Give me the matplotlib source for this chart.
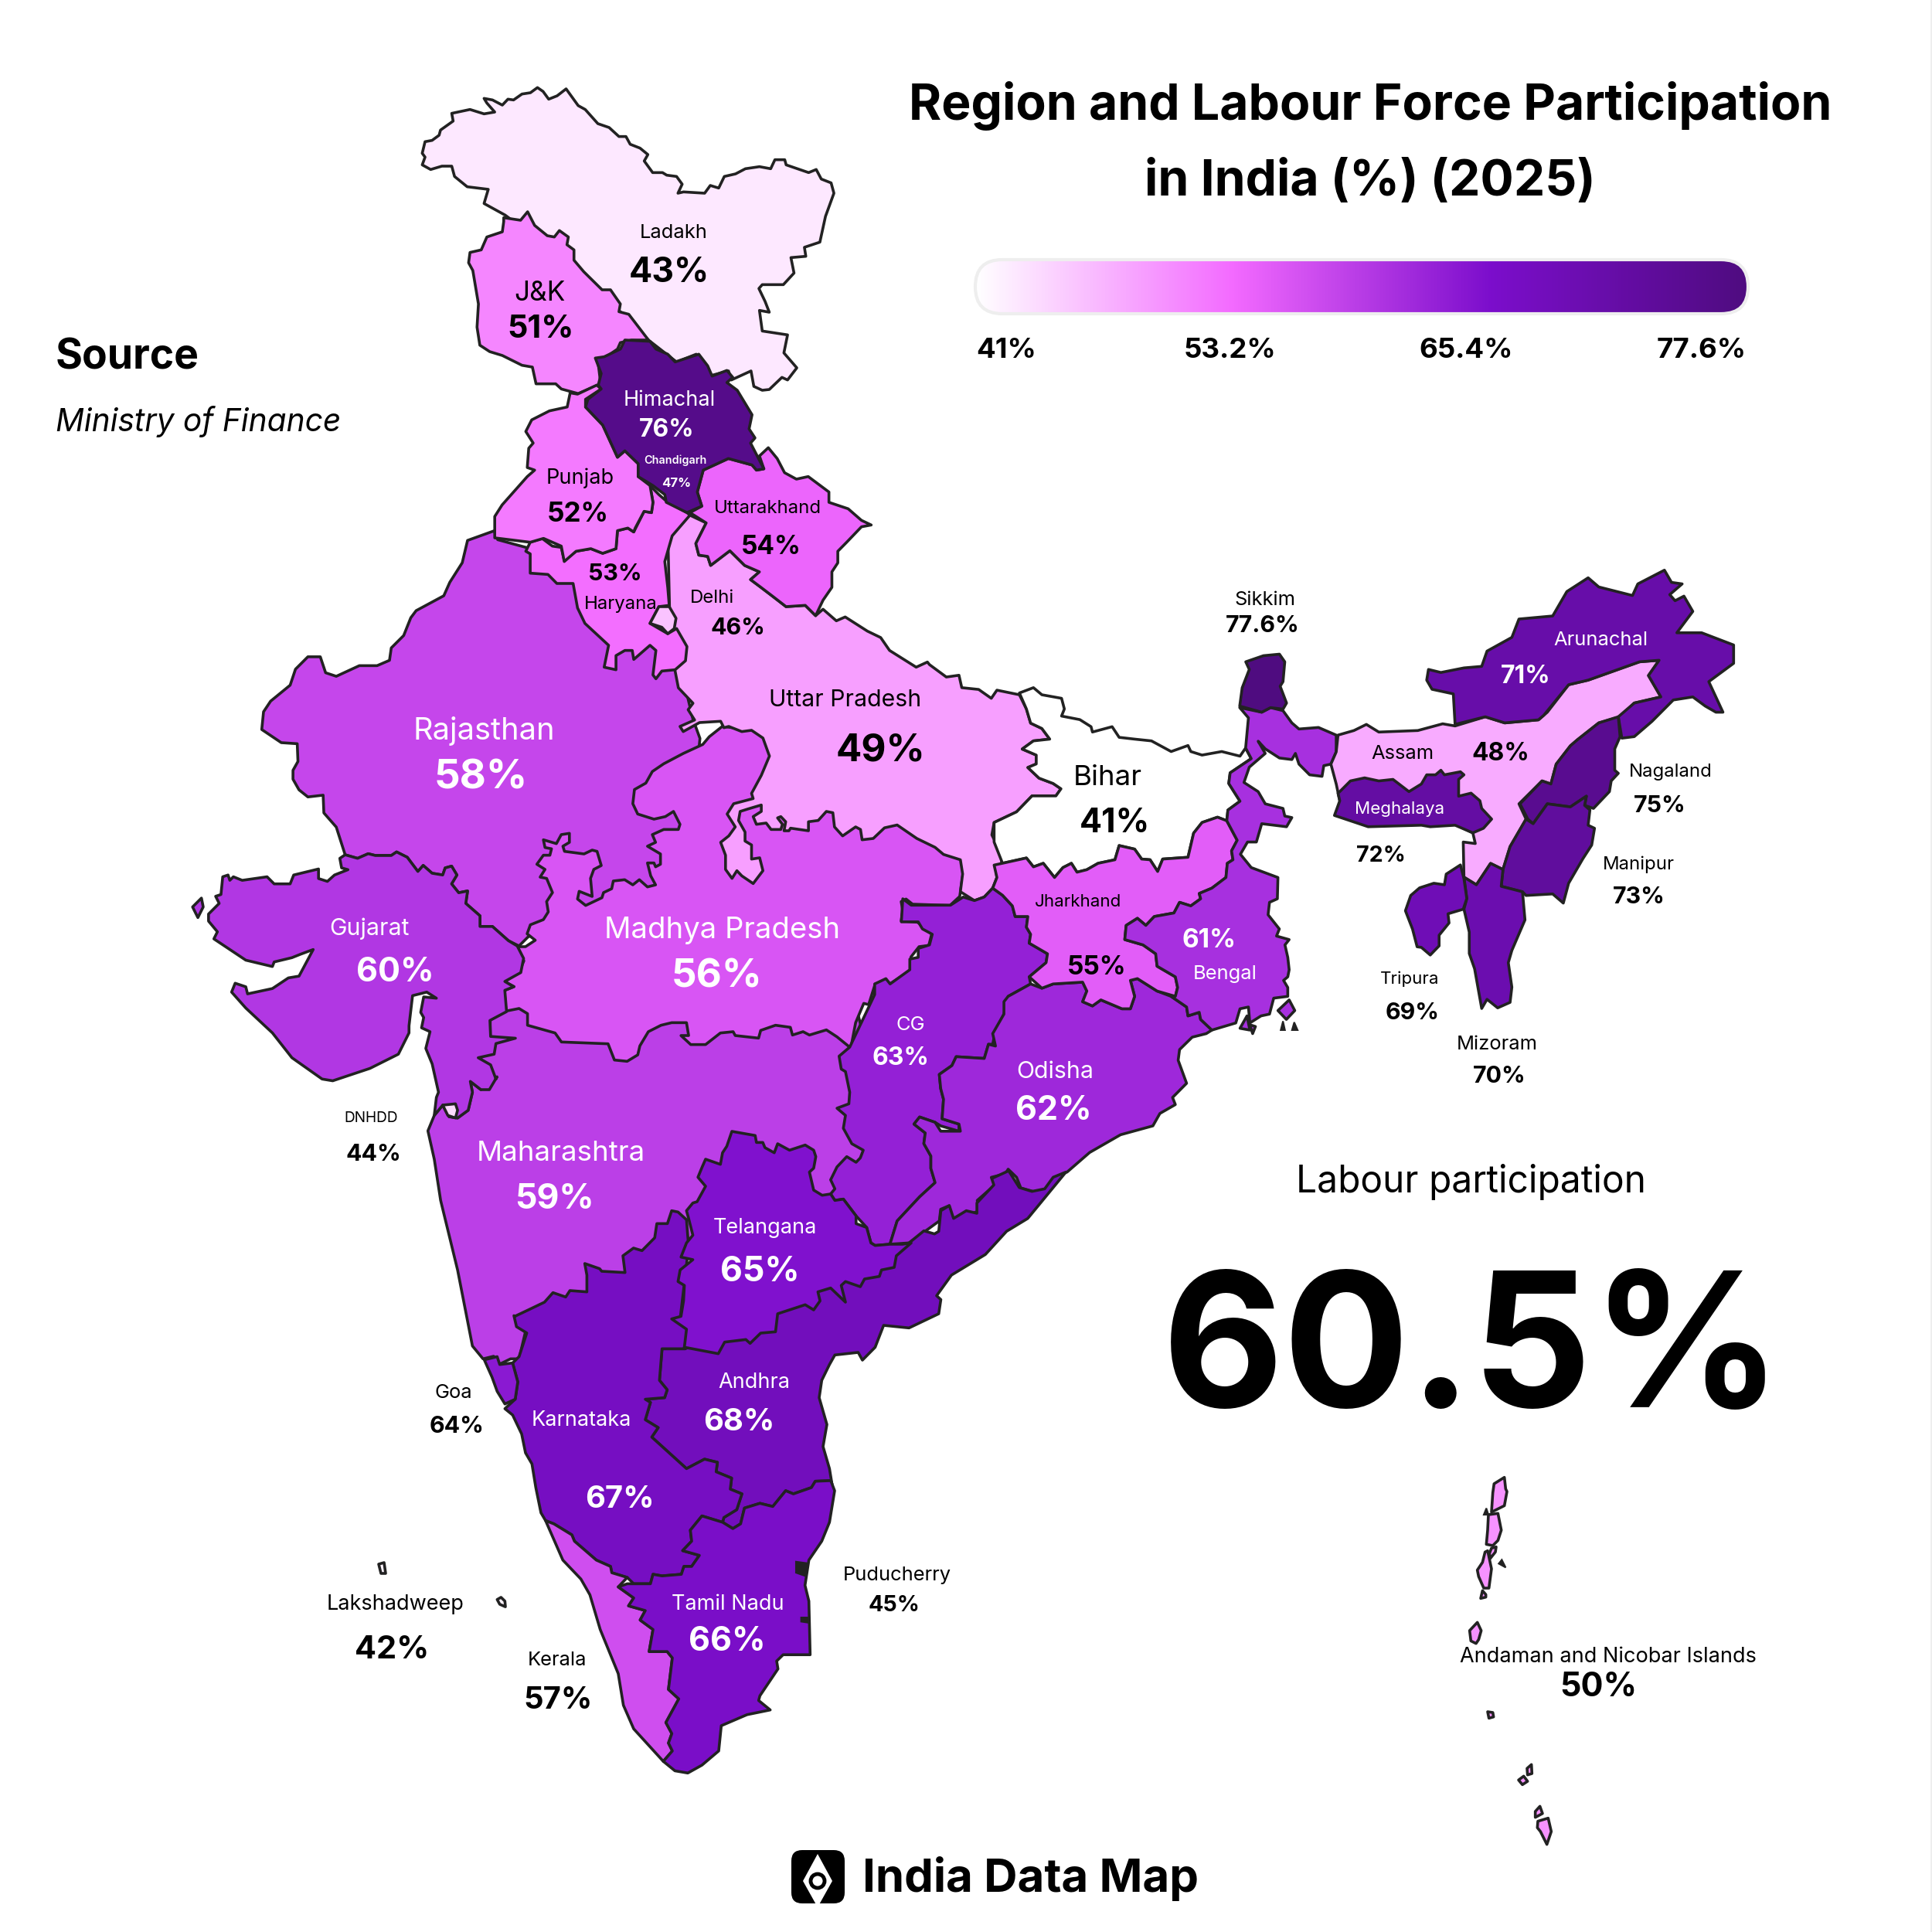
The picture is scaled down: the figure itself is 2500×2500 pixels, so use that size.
import numpy as np
import matplotlib
matplotlib.use('Agg')
import matplotlib.pyplot as plt
from matplotlib.colors import LinearSegmentedColormap, Normalize
from matplotlib.patches import Polygon, FancyBboxPatch, Circle

plt.rcParams['font.family'] = ['Inter', 'DejaVu Sans']

# values
states = ['Bihar', 'Lakshadweep', 'Ladakh', 'DNHDD', 'Puducherry', 'Delhi', 'Chandigarh', 'Assam', 'Uttar Pradesh',
          'Andaman', 'J&K', 'Punjab', 'Haryana', 'Uttarakhand', 'Jharkhand', 'Madhya Pradesh', 'Kerala', 'Rajasthan',
          'Maharashtra', 'Gujarat', 'Bengal', 'Odisha', 'CG', 'Goa', 'Telangana', 'Tamil Nadu', 'Karnataka', 'Andhra',
          'Tripura', 'Mizoram', 'Arunachal', 'Meghalaya', 'Manipur', 'Nagaland', 'Himachal', 'Sikkim']
values = [41, 42, 43, 44, 45, 46, 47, 48, 49, 50, 51, 52, 53, 54, 55, 56, 57, 58, 59, 60, 61, 62, 63, 64, 65, 66,
          67, 68, 69, 70, 71, 72, 73, 75, 76, 77.6]
legend_ticks = [41, 53.2, 65.4, 77.6]
legend_colors = ['#ffffff', '#f36aff', '#7c0ecc', '#4f0c80']
overall = '60.5%'

# outline traces: crop origin and the scale of the trace
N = (530, 100, 2.75, 3.0)
H = (600, 420, 2.613, 3.0)
W = (240, 680, 2.178, 2.178)
C = (640, 850, 2.376, 3.0)
E = (1130, 860, 2.75, 2.178)
S1 = (540, 1280, 1.823, 3.0)
S2 = (600, 1680, 3.0, 2.45)
NE = (1550, 720, 2.178, 2.53)
A = (1850, 1880, 3.0, 3.0)


def z(crop, pts):
    x0, y0, sx, sy = crop
    return [(x0 + a / sx, y0 + b / sy) for a, b in pts]


ladakh = z(N, [(45, 340), (75, 358), (115, 345), (150, 345), (160, 385), (205, 425), (280, 435), (265, 490), (340, 535),
               (420, 600), (600, 800), (750, 910), (850, 1020), (950, 1105), (1020, 1075), (1065, 1160), (1135, 1140),
               (1145, 1175), (1215, 1140), (1225, 1200), (1255, 1215), (1280, 1212), (1325, 1165), (1345, 1175),
               (1378, 1128), (1332, 1070), (1345, 1000), (1255, 985), (1245, 905), (1280, 912), (1265, 870),
               (1243, 820), (1255, 805), (1330, 805), (1368, 760), (1357, 700), (1410, 695), (1405, 660), (1460, 640),
               (1480, 540), (1510, 450), (1500, 410), (1465, 395), (1447, 358), (1420, 370), (1340, 340), (1335, 320),
               (1300, 320), (1285, 355), (1245, 347), (1195, 355), (1160, 375), (1120, 385), (1100, 430), (1070, 420),
               (1050, 450), (1020, 448), (975, 445), (955, 450), (970, 415), (950, 385), (915, 380), (900, 370),
               (865, 370), (835, 325), (848, 300), (820, 275), (785, 260), (770, 230), (745, 230), (710, 195),
               (670, 180), (625, 125), (600, 110), (557, 45), (525, 72), (495, 85), (475, 55), (455, 40), (430, 60),
               (400, 65), (370, 88), (350, 85), (330, 108), (295, 88), (265, 82), (275, 100), (303, 135), (265, 142),
               (215, 125), (150, 140), (155, 170), (110, 205), (105, 225), (80, 245), (55, 250), (45, 295), (55, 310)])
jk = z(N, [(335, 545), (395, 555), (420, 522), (445, 575), (490, 615), (515, 620), (533, 595), (565, 620), (560, 650),
           (585, 670), (585, 710), (620, 755), (685, 825), (715, 825), (750, 880), (745, 910), (780, 920), (850, 1020),
           (790, 1020), (750, 1030), (740, 1055), (700, 1085), (670, 1100), (680, 1190), (600, 1228), (540, 1210),
           (520, 1190), (450, 1190), (437, 1125), (400, 1118), (330, 1080), (285, 1065), (250, 1040), (240, 970),
           (245, 880), (235, 815), (225, 750), (210, 720), (215, 680), (255, 670), (275, 620), (330, 600), (335, 560)])
himachal = z(H, [(445, 130), (475, 125), (530, 95), (545, 60), (630, 65), (650, 95), (690, 115), (715, 145), (795, 115),
                 (825, 160), (840, 200), (890, 178), (910, 205), (890, 225), (925, 255), (975, 350), (965, 405),
                 (985, 440), (970, 460), (1015, 560), (990, 565), (975, 545), (895, 520), (810, 565), (790, 650),
                 (805, 705), (755, 730), (685, 690), (680, 660), (640, 625), (590, 590), (590, 540), (545, 490),
                 (520, 515), (470, 390), (412, 320), (420, 290), (465, 250), (455, 235), (465, 190)])
punjab = z(H, [(360, 265), (385, 270), (450, 235), (465, 250), (412, 290), (412, 320), (470, 390), (520, 515), (545, 490),
               (590, 540), (590, 590), (630, 625), (640, 690), (635, 730), (610, 725), (580, 790), (575, 805), (555, 790),
               (520, 800), (515, 870), (470, 888), (430, 870), (380, 880), (340, 920), (330, 860), (270, 830), (225, 845),
               (105, 828), (105, 745), (130, 700), (215, 590), (240, 565), (215, 555), (220, 480), (235, 460), (210, 415),
               (230, 370), (290, 335), (350, 320)])
haryana = z(H, [(225, 845), (265, 830), (300, 860), (330, 865), (340, 915), (380, 880), (430, 870), (470, 888), (515, 870),
                (520, 800), (555, 790), (575, 805), (610, 725), (635, 730), (640, 690), (630, 625), (660, 660), (690, 690),
                (755, 730), (765, 740), (705, 820), (680, 920), (690, 1020), (695, 1090), (660, 1095), (630, 1160),
                (690, 1200), (720, 1180), (755, 1250), (750, 1305), (715, 1340), (670, 1345), (650, 1375), (640, 1360),
                (650, 1265), (630, 1245), (575, 1300), (570, 1265), (545, 1265), (515, 1285), (515, 1340), (475, 1330),
                (490, 1245), (410, 1160), (385, 1100), (370, 1005), (315, 1005), (285, 970), (225, 965), (225, 890),
                (210, 880)])
delhi = z(H, [(660, 1095), (695, 1095), (718, 1140), (712, 1180), (690, 1200), (670, 1175), (630, 1160)])
uttarakhand = z(H, [(765, 730), (805, 705), (790, 650), (810, 565), (895, 520), (975, 545), (990, 565), (1015, 560),
                    (1000, 510), (1030, 478), (1060, 520), (1085, 575), (1125, 600), (1165, 590), (1235, 650), (1235, 690),
                    (1300, 715), (1345, 760), (1378, 778), (1345, 785), (1295, 845), (1265, 880), (1265, 925), (1245, 960),
                    (1245, 1020), (1215, 1070), (1190, 1130), (1155, 1090), (1090, 1095), (1045, 1055), (1005, 1020),
                    (970, 990), (1000, 960), (950, 935), (900, 878), (835, 935), (825, 900), (795, 895), (785, 850), (820, 770)])
up = (z(H, [(765, 740), (820, 770), (785, 850), (795, 895), (825, 900), (835, 935), (900, 878), (950, 935), (1000, 960),
            (970, 990), (1005, 1020), (1045, 1055), (1090, 1095), (1155, 1090), (1190, 1130), (1215, 1105), (1260, 1150),
            (1290, 1135), (1365, 1190), (1410, 1215), (1440, 1265), (1530, 1330), (1568, 1310)])
      + z(E, [(200, 0), (260, 35), (305, 30), (315, 65), (375, 70), (420, 95), (440, 72), (520, 85), (545, 125), (560, 165),
              (600, 180), (628, 210), (570, 215), (530, 238), (580, 255), (580, 280), (550, 290), (590, 320), (640, 335),
              (668, 350), (650, 370), (610, 370), (565, 370), (510, 415), (430, 445), (422, 480), (460, 540), (455, 565),
              (435, 570), (440, 600), (425, 630), (395, 655), (360, 665), (310, 640), (318, 590), (310, 550), (250, 535),
              (220, 515), (155, 490), (85, 452), (40, 460), (0, 490)])
      + z(C, [(1130, 710), (1125, 670), (1110, 660), (1070, 695), (1045, 660), (1040, 605),
              (1020, 600), (995, 635), (965, 640), (965, 675), (910, 665), (905, 675), (890, 675), (895, 640), (880, 620),
              (870, 625), (885, 650), (880, 670), (850, 670), (835, 645), (805, 650), (795, 620), (820, 600), (820, 575),
              (780, 590), (755, 600), (750, 635), (770, 680), (770, 715), (790, 730), (790, 785), (815, 780), (825, 830),
              (795, 880), (760, 850), (745, 830), (730, 860), (710, 825), (710, 770), (695, 720), (720, 695), (740, 660),
              (715, 610), (735, 570), (795, 550), (790, 530), (820, 460), (845, 385), (825, 315), (790, 285), (760, 290),
              (720, 270), (705, 275), (695, 250), (630, 255), (580, 290), (570, 270), (615, 245), (595, 205), (610, 180),
              (565, 120), (555, 55)])
      + z(H, [(700, 1300), (690, 800)]))
mp = (z(C, [(900, 300), (700, 270), (660, 310), (640, 340), (580, 375), (550, 395), (520, 415), (485, 445), (465, 490),
            (430, 515), (425, 570), (440, 610), (490, 630), (525, 620), (550, 600), (570, 650), (565, 670), (520, 670),
            (485, 690), (495, 720), (470, 735), (510, 765), (510, 805), (495, 815), (490, 800), (470, 800), (480, 850),
            (495, 885), (470, 893), (445, 865), (425, 885), (400, 865), (365, 870), (360, 900), (335, 915), (330, 935),
            (280, 965), (255, 940), (260, 910), (300, 930), (295, 860), (305, 825), (328, 810), (315, 755), (300, 750),
            (275, 765), (215, 755), (210, 735), (230, 720), (230, 685), (205, 690), (190, 725), (150, 710), (155, 740),
            (175, 745), (170, 770), (150, 770), (130, 805), (155, 825), (140, 855), (160, 860), (178, 915), (160, 950),
            (165, 990), (150, 1020), (110, 1040), (100, 1075), (125, 1100), (95, 1125), (70, 1125), (85, 1165), (90, 1180),
            (75, 1225), (30, 1260), (60, 1280), (30, 1295), (35, 1375)])
      + z(S1, [(240, 75), (260, 95), (260, 140), (325, 170), (340, 205), (450, 212), (465, 275), (495, 280), (520, 255),
               (525, 220), (545, 165), (575, 140), (600, 130), (635, 130), (640, 180), (622, 180), (645, 215), (680, 215),
               (715, 170), (745, 165), (750, 180), (805, 190), (810, 160), (845, 140), (880, 148), (885, 178), (910, 165),
               (925, 178), (965, 158), (990, 185), (1020, 225)])
      + z(C, [(1095, 1520), (1110, 1420), (1135, 1345), (1150, 1350), (1170, 1270), (1215, 1270), (1245, 1245), (1280, 1215),
              (1280, 1165), (1305, 1125), (1335, 1120), (1345, 1070), (1300, 1030), (1250, 1025), (1255, 985), (1250, 950),
              (1265, 940), (1285, 960), (1400, 965), (1430, 930), (1445, 800), (1500, 500)]))
rajasthan = z(W, [(795, 42), (870, 15), (880, 40), (1100, 100), (1300, 200), (1400, 420), (1430, 545), (1450, 600), (1420, 900),
                  (1300, 1060), (1100, 1120), (1020, 1130), (965, 1160), (940, 1185), (910, 1170), (865, 1130), (830, 1130),
                  (830, 1100), (790, 1065), (795, 1030), (770, 1035), (750, 1010), (765, 985), (750, 960), (732, 965),
                  (725, 985), (695, 980), (670, 958), (655, 975), (625, 935), (595, 920), (580, 930), (535, 930), (515, 925),
                  (485, 938), (450, 928), (425, 850), (390, 810), (388, 760), (345, 765), (320, 745), (303, 715), (303, 690),
                  (317, 665), (315, 615), (270, 612), (215, 575), (220, 525), (240, 495), (295, 450), (310, 405), (345, 370),
                  (380, 370), (395, 415), (425, 425), (490, 395), (540, 395), (575, 380), (580, 345), (615, 310), (635, 260),
                  (650, 240), (728, 198), (745, 160), (780, 105)])
gujarat = (z(W, [(450, 928), (485, 938), (515, 925), (535, 930), (580, 930), (595, 920), (625, 935), (655, 975), (670, 958),
                 (695, 980), (725, 985), (732, 965), (750, 960), (765, 985), (750, 1010), (770, 1035), (795, 1030), (790, 1065),
                 (830, 1100), (830, 1130), (865, 1130), (910, 1170), (935, 1185), (953, 1220), (945, 1260), (900, 1285),
                 (925, 1300), (900, 1310), (905, 1370), (858, 1395), (860, 1440), (930, 1445), (875, 1460), (870, 1490),
                 (825, 1500), (860, 1520), (875, 1560)])
           + z(S1, [(188, 340), (170, 390), (150, 390), (125, 358),
                    (130, 400), (120, 470), (95, 500), (75, 495), (60, 450), (40, 490), (45, 420), (50, 400), (35, 290),
                    (20, 230), (30, 165), (10, 150), (15, 110), (8, 90), (15, 30), (45, 35)])
           + z(W, [(680, 1315), (640, 1325), (630, 1410), (630, 1430), (600, 1490), (520, 1530), (415, 1565), (385, 1560),
                   (300, 1500), (245, 1430), (170, 1360), (130, 1315), (140, 1290), (170, 1300), (175, 1320), (245, 1305),
                   (290, 1275), (320, 1270), (360, 1195), (325, 1208), (300, 1218), (250, 1230), (245, 1243), (170, 1225),
                   (80, 1165), (90, 1145), (65, 1115), (65, 1095), (95, 1065), (85, 1045), (100, 1040), (105, 990), (120, 985),
                   (125, 1000), (135, 990), (160, 1000), (230, 990), (250, 1010), (295, 1010), (305, 985), (375, 968),
                   (375, 995), (400, 1003), (420, 985), (458, 970), (440, 965), (435, 938)]))
kutch_islet = z(W, [(20, 1075), (45, 1050), (50, 1075), (35, 1105)])
maharashtra = z(S1, [(40, 490), (25, 550), (40, 660), (55, 820), (95, 1090), (130, 1385), (155, 1435), (180, 1425), (195, 1455),
                     (220, 1435), (240, 1435), (255, 1330), (400, 1300), (640, 1000), (1000, 900), (1100, 500), (1040, 100),
                     (400, 60), (172, 60), (172, 188), (150, 268), (150, 390), (125, 358), (130, 400), (120, 470), (95, 500),
                     (75, 495), (60, 450)])
dnhdd = z(S1, [(60, 450), (90, 445), (95, 470), (90, 500), (72, 490)])
goa = z(S2, [(80, 195), (130, 185), (140, 210), (190, 205), (210, 265), (200, 320), (160, 335), (130, 295), (110, 250)])
karnataka = (z(S1, [(230, 1270), (262, 1245), (300, 1215), (320, 1178), (350, 1195), (360, 1170), (400, 1175), (400, 1110),
                    (395, 1065), (430, 1085), (435, 1095), (490, 1100), (485, 1035), (510, 1005), (530, 1015), (560, 965),
                    (565, 910), (590, 910), (600, 860), (615, 865), (635, 895), (640, 1000), (620, 1280), (640, 1320), (630, 1390)])
             + z(S2, [(860, 160), (770, 160), (760, 260), (790, 290), (780, 315), (705, 320), (725, 330), (705, 385), (755, 410),
                      (730, 440), (865, 540), (935, 510), (985, 520), (980, 550), (1040, 570), (1035, 605), (1080, 620),
                      (1060, 670), (1010, 695), (1005, 710), (925, 690), (880, 735), (885, 770), (850, 800), (915, 815),
                      (885, 850), (855, 850), (845, 875), (770, 880), (735, 875), (725, 905), (660, 905), (635, 885), (575, 870),
                      (570, 850), (515, 830), (430, 770), (420, 750), (350, 715), (318, 705), (300, 680), (280, 600), (265, 525),
                      (240, 490), (225, 430), (190, 370), (160, 350), (200, 320), (210, 265), (190, 205), (215, 185), (245, 110),
                      (205, 90), (195, 55)]))
kerala = z(S2, [(318, 705), (350, 715), (420, 750), (430, 770), (515, 830), (570, 850), (575, 870), (635, 885), (600, 915),
                (660, 950), (640, 975), (705, 990), (685, 1020), (735, 1050), (720, 1120), (790, 1120), (810, 1140), (795, 1240),
                (835, 1270), (785, 1345), (808, 1380), (795, 1410), (810, 1435), (775, 1468), (660, 1365), (620, 1290), (600, 1190),
                (530, 1050), (490, 940), (455, 890), (385, 830)])
tamil_nadu = z(S2, [(600, 915), (635, 905), (660, 905), (725, 905), (735, 875), (770, 880), (845, 875), (855, 850), (885, 850),
                    (915, 815), (850, 800), (885, 770), (880, 735), (925, 690), (1005, 710), (1045, 730), (1075, 715), (1090, 665),
                    (1150, 650), (1200, 660), (1250, 610), (1280, 620), (1350, 600), (1365, 580), (1425, 578), (1440, 610),
                    (1420, 710), (1390, 770), (1340, 830), (1325, 910), (1340, 960), (1345, 1130), (1240, 1130), (1215, 1150),
                    (1220, 1175), (1150, 1260), (1145, 1275), (1190, 1305), (1100, 1320), (1000, 1355), (990, 1435), (925, 1480),
                    (870, 1505), (820, 1498), (775, 1468), (810, 1435), (795, 1410), (808, 1380), (785, 1345), (835, 1270),
                    (795, 1240), (810, 1140), (790, 1120), (720, 1120), (735, 1050), (685, 1020), (705, 990), (640, 975), (660, 950)])
puducherry = [z(S2, [(1290, 835), (1335, 840), (1325, 880), (1290, 870)]), z(S2, [(1310, 1012), (1335, 1012), (1335, 1028), (1310, 1025)])]
andhra = (z(S1, [(1160, 985), (1195, 938), (1220, 950), (1230, 940), (1235, 860), (1255, 840), (1265, 890), (1295, 860), (1320, 870),
                 (1320, 830), (1360, 760), (1355, 735), (1395, 705), (1420, 770), (1450, 785), (1480, 775), (1500, 730), (1530, 710),
                 (1440, 890), (1390, 940), (1340, 1030), (1260, 1110), (1225, 1190), (1235, 1205), (1230, 1260), (1160, 1315),
                 (1100, 1305), (1080, 1390), (1050, 1440), (1040, 1410), (985, 1420)])
          + z(S2, [(1420, 210), (1390, 260), (1380, 315), (1410, 400), (1395, 470), (1420, 540), (1430, 590), (1425, 578), (1365, 580),
                   (1350, 600), (1280, 620), (1250, 610), (1200, 660), (1150, 650), (1090, 665), (1075, 715), (1045, 730), (1005, 710),
                   (1010, 695), (1060, 670), (1080, 620), (1035, 605), (1040, 570), (980, 550), (985, 520), (935, 510), (865, 540),
                   (730, 440), (755, 410), (705, 385), (725, 330), (705, 320), (780, 315), (790, 290), (760, 260), (770, 160), (860, 160)])
          + z(S1, [(1000, 1100), (1150, 990)]))
telangana = z(S1, [(742, 552), (797, 568), (800, 595), (815, 595), (820, 615), (842, 635), (850, 600), (878, 625), (915, 605),
                   (935, 625), (940, 650), (935, 695), (925, 710), (935, 780), (955, 800), (975, 795), (985, 820), (1005, 815),
                   (1035, 880), (1035, 910), (1060, 925), (1070, 985), (1080, 995), (1115, 990), (1145, 990), (1165, 985),
                   (1130, 1035), (1125, 1080), (1095, 1090), (1090, 1115), (1055, 1125), (1045, 1155), (1010, 1135), (1000, 1150),
                   (1010, 1215), (975, 1160), (945, 1175), (950, 1210), (935, 1245), (915, 1225), (850, 1260), (845, 1330),
                   (810, 1335), (785, 1375), (775, 1360), (725, 1370), (710, 1415), (630, 1390), (635, 1320), (600, 1280),
                   (622, 1270), (628, 1210), (630, 1150), (615, 1135), (620, 1090), (650, 1050), (622, 1040), (635, 985),
                   (650, 955), (640, 890), (635, 860), (650, 830), (660, 825), (680, 765), (662, 730), (672, 690), (680, 660),
                   (715, 680), (720, 635), (730, 610)])
cg = (z(E, [(105, 660), (135, 678), (275, 678), (320, 655), (360, 665), (395, 655), (425, 630), (460, 650), (495, 680), (505, 710),
            (550, 710), (545, 740), (560, 760), (555, 785), (620, 815), (615, 840), (555, 880), (560, 900), (480, 935), (465, 985),
            (435, 1030), (425, 1070), (410, 1070), (395, 1110), (295, 1105), (280, 1130), (235, 1155), (240, 1195), (250, 1225),
            (245, 1280), (305, 1295), (305, 1315), (240, 1300), (220, 1290), (165, 1275), (145, 1295), (185, 1320), (180, 1350),
            (205, 1385), (205, 1420), (220, 1460), (165, 1500), (85, 1568)])
      + z(S1, [(1115, 990), (1080, 995), (1070, 985), (1060, 925), (1035, 880), (1005, 815), (985, 820), (975, 795), (985, 775),
               (975, 740), (990, 690), (1013, 650), (1035, 672), (1045, 655), (1052, 625), (1025, 600), (1005, 540), (1010, 490),
               (990, 462), (1018, 445), (1020, 400), (1010, 320), (1000, 310), (995, 260), (1020, 225)])
      + z(E, [(5, 930), (5, 900), (45, 885), (60, 900), (130, 860), (130, 830), (160, 825), (160, 800), (200, 790), (210, 760),
              (175, 745), (160, 725), (100, 725)]))
odisha = (z(E, [(560, 900), (600, 912), (640, 900), (745, 895), (760, 920), (745, 950), (780, 962), (810, 945), (885, 970), (915, 970),
                (930, 935), (915, 890), (940, 885), (1010, 920), (1060, 935), (1115, 965), (1120, 990), (1160, 980), (1165, 1000),
                (1205, 1030), (1185, 1040), (1135, 1050), (1090, 1085), (1085, 1115), (1115, 1180), (1065, 1220), (1075, 1240),
                (1020, 1265), (995, 1300), (880, 1325), (770, 1375), (690, 1430), (660, 1440), (620, 1480), (570, 1485), (525, 1475),
                (510, 1445), (480, 1422), (470, 1435), (420, 1445), (435, 1465), (370, 1510), (375, 1540), (280, 1568), (270, 1525),
                (240, 1535), (235, 1568)])
          + z(S1, [(1160, 985), (1115, 990)])
          + z(E, [(85, 1568), (165, 1500), (220, 1460), (205, 1420), (205, 1385), (180, 1350), (185, 1320), (145, 1295), (165, 1275),
                  (220, 1290), (240, 1315), (310, 1315), (305, 1295), (245, 1280), (250, 1225), (240, 1195), (235, 1155), (280, 1130),
                  (295, 1105), (395, 1110), (410, 1070), (435, 1075), (425, 1040), (465, 985), (465, 950), (480, 935)]))
jharkhand = z(E, [(430, 565), (545, 545), (570, 570), (605, 560), (645, 600), (675, 572), (705, 560), (725, 585), (760, 578), (800, 560),
                  (860, 550), (875, 510), (930, 520), (955, 548), (985, 550), (1012, 583), (1030, 548), (1120, 543), (1140, 475),
                  (1170, 445), (1225, 430), (1258, 440), (1295, 495), (1275, 525), (1280, 550), (1260, 560), (1255, 600), (1205, 630),
                  (1160, 645), (1165, 660), (1130, 680), (1090, 670), (1070, 700), (1000, 710), (970, 735), (940, 715), (900, 735),
                  (895, 775), (960, 790), (1005, 815), (1010, 850), (1075, 880), (1083, 910), (1075, 935), (1010, 920), (940, 885),
                  (915, 890), (930, 935), (915, 970), (885, 970), (810, 945), (780, 962), (745, 950), (760, 920), (745, 895), (640, 900),
                  (600, 912), (555, 880), (615, 840), (620, 815), (555, 785), (560, 760), (545, 740), (550, 710), (505, 710), (495, 680),
                  (460, 650), (425, 630), (440, 600)])
bengal = (z(NE, [(118, 495), (180, 510), (205, 495), (240, 505), (265, 545), (285, 565), (340, 560), (390, 585), (390, 640), (375, 680),
                 (355, 685), (350, 720), (315, 715), (285, 680), (275, 645), (265, 665), (230, 660), (190, 630), (170, 605), (190, 645),
                 (145, 690), (130, 740), (170, 770), (190, 810), (240, 825), (245, 850), (265, 855), (250, 885), (180, 875), (165, 935),
                 (140, 935), (120, 975)])
          + z(E, [(1345, 572), (1440, 600), (1438, 660), (1410, 670), (1405, 705), (1445, 745), (1435, 765), (1480, 775), (1465, 790),
                  (1475, 825), (1480, 860), (1475, 880), (1460, 890), (1475, 910), (1475, 935), (1425, 940), (1410, 985), (1380, 990),
                  (1340, 1010), (1335, 965), (1305, 970), (1290, 1010), (1205, 1030), (1165, 1000), (1160, 980), (1120, 990), (1115, 965),
                  (1060, 935), (1075, 935), (1083, 910), (1075, 880), (1010, 850), (1005, 815), (960, 790), (895, 775), (900, 735),
                  (940, 715), (970, 735), (1000, 710), (1070, 700), (1090, 670), (1130, 680), (1165, 660), (1160, 645), (1205, 630),
                  (1255, 600), (1260, 560), (1280, 550), (1275, 525), (1295, 495), (1258, 440), (1262, 410), (1305, 385), (1265, 335),
                  (1270, 305), (1345, 265), (1325, 235), (1335, 150)]))
sundarbans = [z(E, [(1305, 1025), (1330, 990), (1340, 1030)]), z(E, [(1340, 1015), (1360, 1020), (1350, 1040)]),
              z(E, [(1440, 975), (1480, 945), (1500, 975), (1470, 1000)])]
sundarban_dark = [z(E, [(1450, 1030), (1458, 1005), (1465, 1030)]), z(E, [(1490, 1030), (1498, 1008), (1510, 1030)])]
bihar = z(E, [(520, 80), (570, 65), (600, 85), (670, 95), (680, 125), (670, 145), (735, 155), (775, 175), (780, 190), (850, 175), (875, 205),
              (930, 210), (990, 215), (1060, 245), (1120, 228), (1130, 245), (1170, 255), (1240, 245), (1305, 258), (1325, 235), (1345, 265),
              (1270, 305), (1265, 335), (1305, 385), (1262, 410), (1258, 440), (1225, 430), (1170, 445), (1140, 475), (1120, 543), (1030, 548),
              (1012, 583), (985, 550), (955, 548), (930, 520), (875, 510), (860, 550), (800, 560), (760, 578), (725, 585), (705, 560), (675, 572),
              (645, 600), (605, 560), (570, 570), (545, 545), (460, 560), (430, 500), (430, 445), (510, 415), (565, 370), (650, 370), (668, 350),
              (640, 335), (590, 320), (550, 290), (580, 280), (580, 255), (530, 238), (570, 215), (628, 210), (600, 180), (560, 165), (545, 125)])
sikkim = z(NE, [(135, 345), (185, 325), (230, 320), (245, 345), (240, 410), (232, 425), (250, 480), (240, 500), (205, 495), (180, 510),
                (118, 490), (125, 430), (145, 370)])
assam = z(NE, [(395, 585), (440, 570), (475, 550), (510, 575), (620, 570), (690, 548), (725, 555), (810, 525), (865, 545), (960, 535), (985, 510),
               (1045, 420), (1100, 405), (1245, 345), (1300, 340), (1270, 390), (1305, 460), (1230, 480), (1190, 525), (1130, 545), (1070, 600),
               (1050, 620), (1010, 680), (995, 745), (970, 735), (905, 810), (925, 860), (880, 950), (860, 1025), (825, 1005), (785, 1075),
               (750, 1050), (748, 935), (782, 940), (775, 905), (730, 880), (400, 800), (390, 745), (375, 680), (390, 640)])
meghalaya = z(NE, [(400, 770), (430, 735), (470, 725), (510, 735), (550, 730), (595, 770), (630, 745), (645, 715), (670, 715), (685, 700), (695, 715),
                   (740, 705), (750, 715), (735, 730), (735, 785), (770, 775), (795, 800), (800, 825), (828, 860), (805, 890), (775, 905), (725, 880),
                   (655, 885), (630, 880), (480, 885), (385, 848), (400, 800), (395, 775)])
nagaland = z(NE, [(1185, 525), (1190, 590), (1175, 630), (1175, 700), (1185, 710), (1165, 735), (1160, 770), (1115, 825), (1090, 815), (1095, 785),
                  (1050, 820), (985, 810), (945, 875), (930, 860), (908, 810), (970, 735), (995, 745), (1010, 680), (1050, 620), (1070, 600), (1130, 545)])
arunachal = z(NE, [(650, 370), (685, 380), (750, 365), (800, 360), (815, 310), (885, 265), (905, 205), (1000, 195), (1040, 115), (1100, 70), (1130, 100),
                   (1225, 128), (1240, 90), (1315, 45), (1335, 85), (1365, 90), (1330, 125), (1345, 145), (1370, 130), (1395, 180), (1350, 250),
                   (1420, 250), (1510, 290), (1510, 350), (1440, 410), (1480, 510), (1460, 510), (1430, 490), (1395, 460), (1340, 470), (1280, 540),
                   (1230, 590), (1195, 595), (1185, 525), (1230, 480), (1305, 460), (1270, 390), (1300, 340), (1245, 345), (1100, 405), (1045, 420),
                   (975, 520), (960, 535), (865, 545), (810, 525), (725, 550), (720, 450), (660, 435), (645, 405)])
manipur = z(NE, [(985, 810), (1050, 820), (1095, 785), (1090, 815), (1105, 830), (1100, 880), (1118, 890), (1110, 945), (1085, 990), (1045, 1070),
                 (1030, 1135), (1000, 1105), (925, 1110), (915, 1098), (855, 1080), (860, 1025), (880, 950), (925, 860), (945, 875)])
mizoram = z(NE, [(750, 1050), (785, 1075), (825, 1005), (860, 1025), (855, 1080), (915, 1098), (922, 1190), (885, 1290), (875, 1330), (885, 1410),
                 (880, 1460), (845, 1478), (815, 1450), (800, 1480), (780, 1350), (765, 1300), (765, 1230), (750, 1155), (758, 1120)])
tripura = z(NE, [(740, 1010), (750, 1055), (758, 1120), (748, 1155), (705, 1170), (708, 1200), (680, 1240), (680, 1275), (655, 1305), (630, 1280),
                 (618, 1278), (605, 1220), (585, 1160), (600, 1110), (625, 1085), (665, 1070), (695, 1075), (700, 1040)])
andaman = [z(A, p) for p in [
    [(250, 120), (290, 95), (295, 140), (300, 150), (290, 205), (240, 230), (245, 155)],
    [(228, 240), (265, 235), (278, 300), (265, 340), (245, 360), (220, 355), (225, 300)],
    [(240, 370), (258, 365), (255, 385), (235, 410), (232, 390)],
    [(215, 385), (225, 380), (240, 450), (230, 525), (210, 525), (190, 480), (185, 455), (205, 425)],
    [(205, 535), (218, 550), (218, 560), (198, 565)],
    [(185, 658), (200, 690), (190, 725), (180, 740), (160, 730), (155, 690)],
    [(225, 1005), (245, 1008), (248, 1025), (230, 1030)],
    [(345, 1270), (365, 1255), (380, 1275), (360, 1288)],
    [(378, 1225), (395, 1210), (397, 1245), (380, 1250)],
    [(410, 1392), (428, 1372), (438, 1400), (410, 1415)],
    [(420, 1430), (460, 1418), (472, 1470), (455, 1520), (430, 1470), (418, 1455)]]]
andaman_dark = [z(A, [(210, 240), (220, 215), (228, 240)]), z(A, [(268, 430), (280, 415), (295, 445)])]
lakshadweep = [z(S2, [(130, 955), (145, 948), (160, 960), (162, 978), (140, 970)]),
               [(490, 2024), (497, 2022), (499, 2036), (493, 2036)]]

# later ones paint over the shared border of earlier ones
shapes = {'Ladakh': [ladakh], 'Rajasthan': [rajasthan], 'Maharashtra': [maharashtra], 'Madhya Pradesh': [mp], 'Gujarat': [gujarat, kutch_islet],
          'DNHDD': [dnhdd], 'J&K': [jk], 'Uttar Pradesh': [up], 'Haryana': [haryana], 'Delhi': [delhi], 'Punjab': [punjab],
          'Uttarakhand': [uttarakhand], 'Himachal': [himachal], 'CG': [cg], 'Odisha': [odisha], 'Andhra': [andhra], 'Karnataka': [karnataka],
          'Goa': [goa], 'Kerala': [kerala], 'Tamil Nadu': [tamil_nadu], 'Telangana': [telangana], 'Bihar': [bihar], 'Jharkhand': [jharkhand],
          'Bengal': [bengal] + sundarbans, 'Sikkim': [sikkim], 'Assam': [assam], 'Meghalaya': [meghalaya], 'Arunachal': [arunachal],
          'Nagaland': [nagaland], 'Manipur': [manipur], 'Mizoram': [mizoram], 'Tripura': [tripura], 'Andaman': andaman,
          'Lakshadweep': lakshadweep}

# label x, y (in a 1568 wide frame), text, size, weight, colour
labels = [
    (547, 187, 'Ladakh', 16, 'normal', 'k'), (543, 219, '43%', 28, 'bold', 'k'),
    (438, 236, 'J&K', 22, 'normal', 'k'), (439, 265, '51%', 26, 'bold', 'k'),
    (543, 323, 'Himachal', 17, 'normal', 'w'), (541, 347, '76%', 20, 'bold', 'w'),
    (548, 372, 'Chandigarh', 9, 'semibold', 'w'), (549, 391, '47%', 10.5, 'bold', 'w'),
    (471, 386, 'Punjab', 17, 'normal', 'k'), (469, 415, '52%', 22, 'bold', 'k'),
    (623, 411, 'Uttarakhand', 15, 'normal', 'k'), (626, 442, '54%', 21, 'bold', 'k'),
    (499, 464, '53%', 19, 'bold', 'k'), (504, 489, 'Haryana', 15, 'normal', 'k'),
    (578, 484, 'Delhi', 15, 'normal', 'k'), (599, 508, '46%', 19, 'bold', 'k'),
    (686, 566, 'Uttar Pradesh', 19, 'normal', 'k'), (715, 607, '49%', 31, 'bold', 'k'),
    (899, 629, 'Bihar', 23, 'normal', 'k'), (905, 666, '41%', 27, 'bold', 'k'),
    (393, 591, 'Rajasthan', 25, 'normal', 'w'), (390, 629, '58%', 33, 'bold', 'w'),
    (300, 752, 'Gujarat', 19, 'normal', 'w'), (321, 787, '60%', 27, 'bold', 'w'),
    (586, 753, 'Madhya Pradesh', 24, 'normal', 'w'), (582, 790, '56%', 32, 'bold', 'w'),
    (1027, 485, 'Sikkim', 16, 'normal', 'k'), (1025, 506, '77.6%', 19, 'bold', 'k'),
    (1299, 518, 'Arunachal', 16, 'normal', 'w'), (1238, 547, '71%', 20, 'bold', 'w'),
    (1138, 610, 'Assam', 16, 'normal', 'k'), (1218, 610, '48%', 20, 'bold', 'k'),
    (1136, 655, 'Meghalaya', 14, 'normal', 'w'), (1121, 693, '72%', 18, 'bold', 'k'),
    (1356, 625, 'Nagaland', 15, 'normal', 'k'), (1347, 652, '75%', 19, 'bold', 'k'),
    (1330, 700, 'Manipur', 15, 'normal', 'k'), (1330, 726, '73%', 19, 'bold', 'k'),
    (1144, 793, 'Tripura', 14, 'normal', 'k'), (1146, 820, '69%', 19, 'bold', 'k'),
    (1215, 846, 'Mizoram', 16, 'normal', 'k'), (1217, 872, '70%', 19, 'bold', 'k'),
    (875, 730, 'Jharkhand', 14, 'normal', 'k'), (890, 783, '55%', 21, 'bold', 'k'),
    (981, 761, '61%', 21, 'bold', 'w'), (994, 789, 'Bengal', 16, 'normal', 'w'),
    (739, 830, 'CG', 16, 'normal', 'w'), (731, 857, '63%', 20, 'bold', 'w'),
    (856, 868, 'Odisha', 19, 'normal', 'w'), (855, 899, '62%', 27, 'bold', 'w'),
    (301, 906, 'DNHDD', 12, 'normal', 'k'), (303, 935, '44%', 19, 'bold', 'k'),
    (455, 934, 'Maharashtra', 23, 'normal', 'w'), (450, 971, '59%', 28, 'bold', 'w'),
    (621, 995, 'Telangana', 17, 'normal', 'w'), (617, 1030, '65%', 28, 'bold', 'w'),
    (368, 1129, 'Goa', 16, 'normal', 'k'), (371, 1156, '64%', 19, 'bold', 'k'),
    (612, 1120, 'Andhra', 17, 'normal', 'w'), (600, 1152, '68%', 25, 'bold', 'w'),
    (472, 1151, 'Karnataka', 17, 'normal', 'w'), (503, 1215, '67%', 25, 'bold', 'w'),
    (591, 1300, 'Tamil Nadu', 17, 'normal', 'w'), (590, 1330, '66%', 27, 'bold', 'w'),
    (728, 1277, 'Puducherry', 16, 'normal', 'k'), (726, 1301, '45%', 18, 'bold', 'k'),
    (321, 1300, 'Lakshadweep', 17, 'normal', 'k'), (318, 1337, '42%', 26, 'bold', 'k'),
    (452, 1346, 'Kerala', 16, 'normal', 'k'), (453, 1378, '57%', 25, 'bold', 'k'),
    (1305, 1343, 'Andaman and Nicobar Islands', 17, 'normal', 'k'), (1297, 1367, '50%', 27, 'bold', 'k'),
]

SCALE = 2500 / 1568

fig = plt.figure(figsize=(25, 25), dpi=100)
ax = fig.add_axes([0, 0, 1, 1])

cmap = LinearSegmentedColormap.from_list('labour', legend_colors)
norm = Normalize(legend_ticks[0], legend_ticks[-1])
state_values = dict(zip(states, values))


def txt(x, y, s, size, weight='normal', color='k', **kw):
    # va center sits a little high for these fonts
    ax.text(x * SCALE, (y + 1 + 0.05 * size) * SCALE, s, fontsize=size * SCALE * 0.72, fontweight=weight, color=color,
            ha=kw.pop('ha', 'center'), va='center', **kw)


for name, polys in shapes.items():
    for pts in polys:
        ax.add_patch(Polygon(pts, closed=True, facecolor=cmap(norm(state_values[name])), edgecolor='#222222',
                             linewidth=2.6, joinstyle='round'))
for pts in puducherry + sundarban_dark + andaman_dark:
    ax.add_patch(Polygon(pts, closed=True, facecolor='#222222', edgecolor='#222222', linewidth=1.5))

for x, y, s, size, weight, color in labels:
    txt(x, y, s, size, weight, color)

# legend bar
bar = FancyBboxPatch((1262, 336), 1000, 70, boxstyle='round,pad=0,rounding_size=35', facecolor='none',
                     edgecolor='#eeeeee', linewidth=3)
ax.add_patch(bar)
grad = ax.imshow(np.linspace(0, 1, 512).reshape(1, -1), cmap=cmap, extent=(1262, 2262, 406, 336), aspect='auto')
grad.set_clip_path(bar)
for tx, t in zip([817, 998, 1190, 1381], legend_ticks):
    txt(tx, 282, f'{t:g}%', 23, 'bold')

txt(1112, 83, 'Region and Labour Force Participation', 40.3, 'bold')
txt(1112, 145, 'in India (%) (2025)', 40.3, 'bold')
txt(45, 288, 'Source', 33.5, 'bold', ha='left')
txt(45, 340, 'Ministry of Finance', 25.5, style='italic', ha='left')
txt(1194, 957, 'Labour participation', 30)
txt(1195, 1094, overall, 152, 'bold')

# logo
ax.add_patch(FancyBboxPatch((1024, 2394), 69, 69, boxstyle='round,pad=0,rounding_size=14', facecolor='k', edgecolor='none'))
ax.add_patch(Polygon([(1058, 2399), (1077, 2434), (1058, 2468), (1039, 2434)], closed=True, facecolor='w', edgecolor='none'))
ax.add_patch(Circle((1058, 2434), 9, facecolor='w', edgecolor='k', linewidth=3.5))
txt(700, 1522, 'India Data Map', 37.6, 'bold', ha='left')

# thin grey edge down the right side
ax.axvline(2498.5, color='#eeeeee', linewidth=2)

ax.set_xlim(0, 2500)
ax.set_ylim(2500, 0)
ax.axis('off')
fig.savefig('out.png', dpi=100, facecolor='white')
